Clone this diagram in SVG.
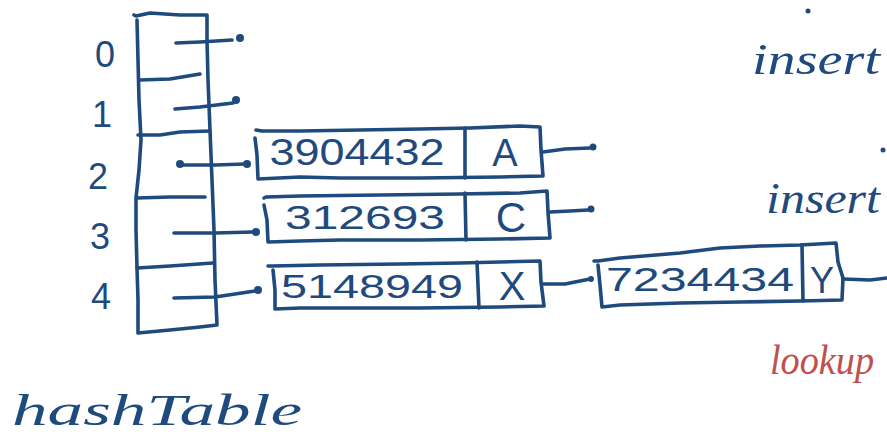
<svg xmlns="http://www.w3.org/2000/svg" width="887" height="436" viewBox="0 0 887 436">
<style>
.s{fill:none;stroke:#1f4a7d;stroke-width:3.6;stroke-linecap:round;stroke-linejoin:round}
.t{fill:#1f4a7d;font-family:"Liberation Sans","DejaVu Sans",sans-serif}
.d{fill:#1f4a7d}
.h{fill:#1f4a7d;font-family:"Liberation Serif",serif;font-style:italic}
.r{fill:#c0504d;font-family:"Liberation Serif",serif;font-style:italic}
</style>
<rect width="887" height="436" fill="#ffffff"/>
<g id="hashTable">
<path class="s" d="M134,15 L136,16 L150,13 L180,15 L207,15 L207,40 L208,80 L210,130 L212,180 L214,230 L215,280 L217,325 L200,327 L170,330 L138,333 L138,300 L137,268 L136,230 L136,198 L139,170 L141,140 L139,100 L138,60 L137,20"/>
<path class="s" d="M139,80 L170,79 L200,74"/>
<path class="s" d="M138,135 L160,135 L180,132 L210,131"/>
<path class="s" d="M137,198 L170,197 L205,197"/>
<path class="s" d="M137,268 L170,266 L213,263"/>
<text class="t" x="105" y="67" font-size="36" text-anchor="middle">0</text>
<text class="t" x="102" y="127" font-size="36" text-anchor="middle">1</text>
<text class="t" x="98" y="189" font-size="36" text-anchor="middle">2</text>
<text class="t" x="100" y="249" font-size="36" text-anchor="middle">3</text>
<text class="t" x="101" y="309" font-size="36" text-anchor="middle">4</text>
<text class="h" x="12" y="425" font-size="44" textLength="290" lengthAdjust="spacingAndGlyphs">hashTable</text>
</g>
<g id="nodeA">
<path class="s" d="M256,130 L262,131 L300,131 L360,130 L420,129 L470,128 L520,126 L540,127 L541,150 L543,176 L500,177 L420,178 L340,178 L300,177 L258,179 L257,155 L255,138"/>
<path class="s" d="M465,128 L465,178"/>
<text class="t" x="357" y="165" font-size="36" text-anchor="middle" textLength="175" lengthAdjust="spacingAndGlyphs">3904432</text>
<text class="t" x="505" y="166" font-size="38" text-anchor="middle">A</text>
</g>
<g id="nodeC">
<path class="s" d="M264,198 L266,197 L300,196 L380,195 L460,194 L520,193 L547,191 L548,212 L550,238 L500,239 L420,240 L340,240 L300,241 L268,242 L267,220 L264,205"/>
<path class="s" d="M465,193 L466,240"/>
<text class="t" x="365" y="229" font-size="34" text-anchor="middle" textLength="160" lengthAdjust="spacingAndGlyphs">312693</text>
<text class="t" x="511" y="232" font-size="42" text-anchor="middle">C</text>
</g>
<g id="nodeX">
<path class="s" d="M268,266 L272,266 L320,265 L400,264 L460,263 L540,261 L541,282 L544,306 L500,307 L420,308 L340,308 L300,308 L275,309 L275,290 L273,270"/>
<path class="s" d="M477,262 L479,308"/>
<text class="t" x="372" y="298" font-size="34" text-anchor="middle" textLength="182" lengthAdjust="spacingAndGlyphs">5148949</text>
<text class="t" x="512" y="300" font-size="40" text-anchor="middle">X</text>
</g>
<g id="nodeY">
<path class="s" d="M594,261 L598,261 L620,258 L680,253 L720,248 L760,246 L800,245 L836,243 L838,262 L843,278 L842,300 L800,301 L740,302 L680,303 L620,305 L602,307 L600,285 L598,265"/>
<path class="s" d="M802,245 L803,301"/>
<text class="t" x="700" y="291" font-size="34" text-anchor="middle" textLength="188" lengthAdjust="spacingAndGlyphs">7234434</text>
<text class="t" x="822" y="293" font-size="36" text-anchor="middle">Y</text>
</g>
<g id="notes">
<circle class="d" cx="808" cy="11" r="2.5"/>
<text class="h" x="752" y="74" font-size="44" textLength="128" lengthAdjust="spacingAndGlyphs">insert</text>
<circle class="d" cx="883" cy="150" r="2.5"/>
<text class="h" x="766" y="213" font-size="44" textLength="114" lengthAdjust="spacingAndGlyphs">insert</text>
<text class="r" x="770" y="374" font-size="42" textLength="104" lengthAdjust="spacingAndGlyphs">lookup</text>
</g>
<g id="connectors">
<path class="s" d="M176,43 L200,42 L232,40"/><circle class="d" cx="240" cy="38" r="4"/>
<path class="s" d="M175,109 L200,107 L233,103"/><circle class="d" cx="236" cy="100" r="4"/>
<path class="s" d="M180,165 L215,165 L245,164"/><circle class="d" cx="180" cy="164" r="4"/><circle class="d" cx="247" cy="164" r="4"/>
<path class="s" d="M174,233 L215,233 L253,232"/><circle class="d" cx="256" cy="232" r="4"/>
<path class="s" d="M174,298 L215,297 L255,291"/><circle class="d" cx="258" cy="290" r="4"/>
<path class="s" d="M543,152 L565,149 L590,148"/><circle class="d" cx="593" cy="147" r="3.5"/>
<path class="s" d="M550,212 L570,211 L588,210"/><circle class="d" cx="591" cy="209" r="3.5"/>
<path class="s" d="M543,284 L565,284 L580,281 L590,279"/><circle class="d" cx="591" cy="279" r="3"/>
<path class="s" d="M843,279 L870,280 L887,278"/>
</g>
</svg>
